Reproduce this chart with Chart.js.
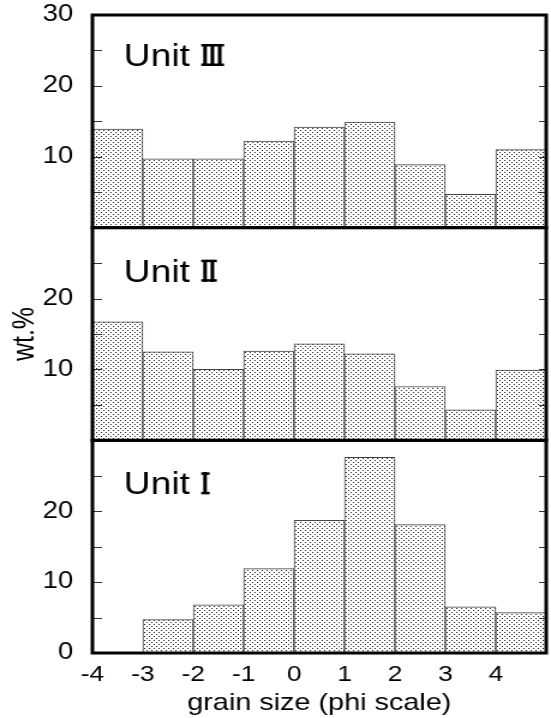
<!DOCTYPE html>
<html>
<head>
<meta charset="utf-8">
<script src="https://cdn.jsdelivr.net/npm/chart.js@4"></script>
<style>
  body { margin: 0; background: #fff; }
  #grafica { display: block; transform: scaleX(1.2004); transform-origin: 0 0; }
</style>
</head>
<body>
<canvas id="grafica" width="459" height="718"></canvas>
<script>
// datos (wt.% por intervalo de 1 phi)
const phiBins = [-4, -3, -2, -1, 0, 1, 2, 3, 4];
const unit3 = [13.9, 9.7, 9.7, 12.2, 14.2, 14.9, 8.9, 4.7, 11.0];
const unit2 = [16.7, 12.5, 10.0, 12.6, 13.6, 12.2, 7.6, 4.3, 9.9];
const unit1 = [0, 4.7, 6.8, 11.9, 18.7, 27.6, 18.1, 6.5, 5.7];
const unitNumerals = ['Ⅲ', 'Ⅱ', 'Ⅰ'];
const xTickLabels = [-4, -3, -2, -1, 0, 1, 2, 3, 4];
const yLabelsTop = [10, 20, 30];
const yLabelsMid = [10, 20];
const yLabelsBot = [0, 10, 20];

const fuente = '"Liberation Sans", Arial, sans-serif';

// trama de puntos para las barras
const trama = document.createElement('canvas');
trama.width = 4;
trama.height = 4;
const tctx = trama.getContext('2d');
tctx.fillStyle = '#fff';
tctx.fillRect(0, 0, 4, 4);
tctx.fillStyle = '#222';
tctx.fillRect(0, 0, 1, 1);
tctx.fillRect(2, 2, 1, 1);
const relleno = tctx.createPattern(trama, 'repeat');

function barras(valores) {
    return phiBins.map((b, i) => ({ x: b + 0.5, y: valores[i] }));
}

function serie(valores, eje) {
    return {
        data: barras(valores),
        yAxisID: eje,
        backgroundColor: relleno,
        borderColor: '#444',
        borderWidth: 1,
        barPercentage: 1,
        categoryPercentage: 1,
        grouped: false
    };
}

function ejeY(visibles, titulo) {
    return {
        type: 'linear',
        position: 'left',
        stack: 'units',
        stackWeight: 1,
        min: 0,
        max: 30,
        grid: { display: false },
        border: { display: false },
        ticks: {
            stepSize: 5,
            autoSkip: false,
            padding: 8,
            color: '#000',
            font: { family: fuente, size: 23 },
            callback: v => (visibles.includes(v) ? v : '')
        },
        title: {
            display: !!titulo,
            text: titulo || '',
            color: '#000',
            font: { family: fuente, size: 25 },
            padding: { top: 6, bottom: 0 }
        },
        afterFit: s => {
            s.width = 77;
            s.paddingTop = 0;
            s.paddingBottom = 0;
        }
    };
}

// marcos, marcas interiores y rotulos de cada unidad
const marcoPlugin = {
    id: 'marco',
    afterDatasetsDraw(chart) {
        const ctx = chart.ctx;
        const area = chart.chartArea;
        ['yTop', 'yMid', 'yBot'].forEach((id, i) => {
            const s = chart.scales[id];
            ctx.save();
            ctx.strokeStyle = '#333';
            ctx.lineWidth = 1;
            s.ticks.forEach(t => {
                if (t.value <= 0 || t.value >= 30) return;
                const y = Math.round(s.getPixelForValue(t.value)) + 0.5;
                ctx.beginPath();
                ctx.moveTo(area.left, y);
                ctx.lineTo(area.left + 8, y);
                ctx.moveTo(area.right - 6, y);
                ctx.lineTo(area.right, y);
                ctx.stroke();
            });
            ctx.strokeStyle = '#000';
            ctx.lineWidth = 3;
            ctx.strokeRect(area.left, s.top, area.right - area.left, s.bottom - s.top);

            const base = s.top + (i === 0 ? 51 : 54);
            ctx.fillStyle = '#000';
            ctx.textBaseline = 'alphabetic';
            ctx.textAlign = 'left';
            ctx.font = '31px ' + fuente;
            ctx.fillText('Unit', area.left + 26, base);
            const nx = area.left + 26 + ctx.measureText('Unit').width + 8;
            ctx.font = '31px "DejaVu Sans"';
            ctx.fillText(unitNumerals[i], nx, base);
            // barras arriba y abajo del numeral romano
            const m = ctx.measureText(unitNumerals[i]);
            const x0 = nx - m.actualBoundingBoxLeft - 1.5;
            const x1 = nx + m.actualBoundingBoxRight + 1.5;
            ctx.fillRect(x0, base - m.actualBoundingBoxAscent, x1 - x0, 2.5);
            ctx.fillRect(x0, base - 2.5, x1 - x0, 2.5);
            ctx.restore();
        });
    }
};

const ctx = document.getElementById('grafica').getContext('2d');
new Chart(ctx, {
    type: 'bar',
    data: {
        datasets: [
            serie(unit3, 'yTop'),
            serie(unit2, 'yMid'),
            serie(unit1, 'yBot')
        ]
    },
    options: {
        responsive: false,
        animation: false,
        layout: { padding: { top: 15, right: 4, bottom: 0, left: 0 } },
        plugins: {
            legend: { display: false },
            tooltip: { enabled: false }
        },
        scales: {
            x: {
                type: 'linear',
                offset: false,
                min: -4,
                max: 5,
                grid: { display: false },
                border: { display: false },
                ticks: {
                    stepSize: 1,
                    autoSkip: false,
                    maxRotation: 0,
                    padding: 1,
                    color: '#000',
                    font: { family: fuente, size: 22 },
                    callback: v => (xTickLabels.includes(v) ? v : '')
                },
                title: {
                    display: true,
                    text: 'grain size (phi scale)',
                    color: '#000',
                    font: { family: fuente, size: 24 },
                    padding: { top: 0, bottom: 0 }
                },
                afterFit: s => { s.height = 65; }
            },
            yBot: ejeY(yLabelsBot),
            yMid: ejeY(yLabelsMid, 'wt.%'),
            yTop: ejeY(yLabelsTop)
        }
    },
    plugins: [marcoPlugin]
});
</script>
</body>
</html>
